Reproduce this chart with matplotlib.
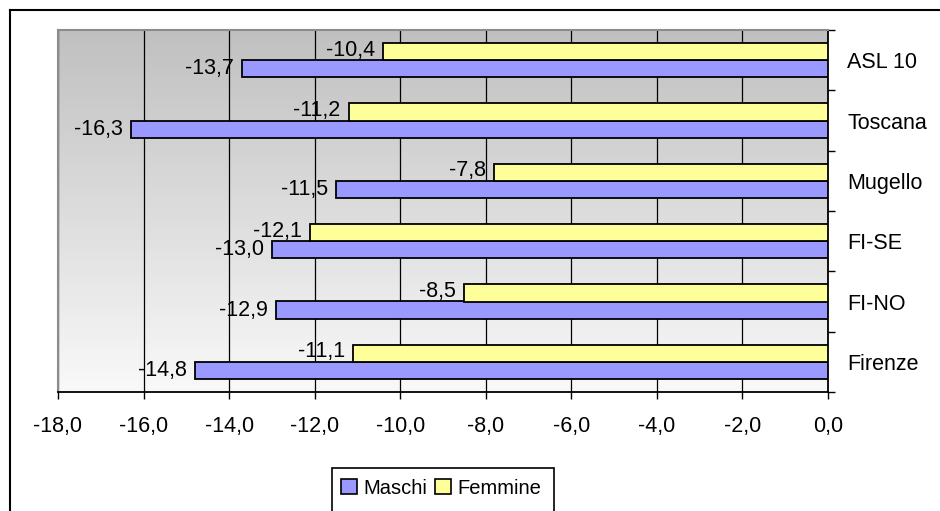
import numpy as np
import matplotlib
matplotlib.use("Agg")
import matplotlib.pyplot as plt
from matplotlib.lines import Line2D
from matplotlib.patches import Patch, Rectangle
from matplotlib.ticker import FixedLocator, FuncFormatter
from matplotlib.colors import LinearSegmentedColormap

plt.rcParams['font.family'] = ['Liberation Sans', 'DejaVu Sans']

categories = ["Firenze", "FI-NO", "FI-SE", "Mugello", "Toscana", "ASL 10"]
maschi = [-14.8, -12.9, -13.0, -11.5, -16.3, -13.7]
femmine = [-11.1, -8.5, -12.1, -7.8, -11.2, -10.4]
x_ticks = [-18, -16, -14, -12, -10, -8, -6, -4, -2, 0]

BLUE = "#9999FF"
YELLOW = "#FFFF99"
FS = 15.5

W, H = 940, 511
fig = plt.figure(figsize=(W / 100, H / 100), dpi=100)

# plot area in pixel coordinates
L, R, T, B = 58, 828, 30, 392
ax = fig.add_axes([L / W, 1 - B / H, (R - L) / W, (B - T) / H])

ax.set_xlim(-18, 0)
ax.set_ylim(-0.5, len(categories) - 0.5)

# vertical grey-to-white gradient background
grad = np.linspace(0, 1, 256).reshape(-1, 1)
cmap = LinearSegmentedColormap.from_list("bg", ["#C0C0C0", "#F9F9F9"])
ax.imshow(grad, aspect="auto", cmap=cmap,
          extent=[-18, 0, -0.5, len(categories) - 0.5],
          origin="upper", zorder=0)

y = np.arange(len(categories))
h = 1 / 3.5
ax.barh(y - h / 2, maschi, height=h, color=BLUE, edgecolor="black",
        linewidth=1.3, zorder=3, label="Maschi")
ax.barh(y + h / 2, femmine, height=h, color=YELLOW, edgecolor="black",
        linewidth=1.3, zorder=3, label="Femmine")

def fmt(v):
    return f"{v:.1f}".replace(".", ",")

for yi, v in zip(y - h / 2, maschi):
    ax.annotate(fmt(v), (v, yi), xytext=(-6, 0), textcoords="offset points",
                ha="right", va="center", fontsize=FS, zorder=4)
for yi, v in zip(y + h / 2, femmine):
    ax.annotate(fmt(v), (v, yi), xytext=(-6, 1), textcoords="offset points",
                ha="right", va="center", fontsize=FS, zorder=4)

ax.xaxis.set_major_locator(FixedLocator(x_ticks))
ax.xaxis.set_major_formatter(FuncFormatter(lambda v, p: fmt(v)))
ax.tick_params(axis="x", direction="out", length=5, width=1, color="black",
               labelsize=FS, pad=12)
ax.grid(axis="x", color="black", linewidth=0.9, zorder=1)
ax.set_axisbelow(True)

ax.yaxis.tick_right()
ax.set_yticks(y)
ax.set_yticklabels(categories, fontsize=FS)
ax.set_yticks(np.arange(-0.5, len(categories)), minor=True)
ax.tick_params(axis="y", which="major", length=0, pad=14)
ax.tick_params(axis="y", which="minor", length=5, width=1, color="black",
               direction="out", right=True, left=False)

for s in ("left", "top"):
    ax.spines[s].set_color("#8C8C8C")
    ax.spines[s].set_linewidth(1.5)
for s in ("bottom", "right"):
    ax.spines[s].set_color("black")
    ax.spines[s].set_linewidth(1.3)

# outer chart frame
fig.add_artist(Line2D([10 / W, 10 / W], [1 - 10 / H, -0.05], color="black",
                      linewidth=1.5, transform=fig.transFigure))
fig.add_artist(Line2D([10 / W, 1.05], [1 - 10 / H, 1 - 10 / H], color="black",
                      linewidth=1.5, transform=fig.transFigure))

# legend box, running past the lower edge of the chart area
fig.add_artist(Rectangle((332 / W, -0.05), (554 - 332) / W, 1 - 468 / H + 0.05,
                         transform=fig.transFigure, facecolor="white",
                         edgecolor="black", linewidth=1.2, zorder=5))
handles = [Patch(facecolor=BLUE, edgecolor="black", linewidth=1.2),
           Patch(facecolor=YELLOW, edgecolor="black", linewidth=1.2)]
leg = fig.legend(handles, ["Maschi", "Femmine"], loc="center left",
                 bbox_to_anchor=(341 / W, 1 - 488 / H), ncol=2,
                 fontsize=14.5, frameon=False, borderpad=0, handlelength=0.8,
                 handleheight=0.8, handletextpad=0.3, columnspacing=0.4,
                 borderaxespad=0)
leg.set_zorder(6)

fig.savefig("out.png", dpi=100, facecolor="white")
